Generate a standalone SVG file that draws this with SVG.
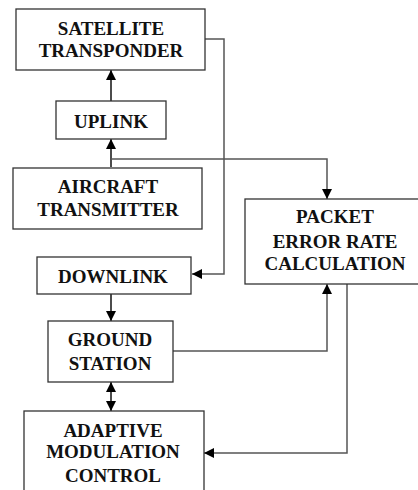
<svg xmlns="http://www.w3.org/2000/svg" width="418" height="490" viewBox="0 0 418 490">
<defs>
<marker id="ah" viewBox="0 0 10 10" refX="10" refY="5" markerWidth="10" markerHeight="10" markerUnits="userSpaceOnUse" orient="auto-start-reverse">
<path d="M0,0 L10,5 L0,10 Z" fill="#000"/>
</marker>
</defs>
<style>
.box{fill:#fff;stroke:#333;stroke-width:1.3}
text{font-family:'Liberation Serif','Times New Roman',Times,serif;font-weight:bold;font-size:19px;fill:#111;text-anchor:middle}
.c{fill:none;stroke:#555;stroke-width:1.5}
.k{fill:none;stroke:#111;stroke-width:1.5}
</style>
<rect width="418" height="490" fill="#fff"/>
<g id="connectors">
<path class="k" d="M111,101 L111,70" marker-end="url(#ah)"/>
<path class="k" d="M111,167 L111,139" marker-end="url(#ah)"/>
<path class="c" d="M111,159 L327,159 L327,199" marker-end="url(#ah)"/>
<path class="c" d="M205,39 L224,39 L224,274 L192,274" marker-end="url(#ah)"/>
<path class="k" d="M111,294 L111,321" marker-end="url(#ah)"/>
<path class="k" d="M111,382 L111,411" marker-start="url(#ah)" marker-end="url(#ah)"/>
<path class="c" d="M173,351 L327,351 L327,284" marker-end="url(#ah)"/>
<path class="c" d="M347,284 L347,453 L204,453" marker-end="url(#ah)"/>
</g>
<g id="satellite">
<rect class="box" x="16" y="9" width="189" height="61"/>
<text x="111" y="35">SATELLITE</text>
<text x="111" y="57">TRANSPONDER</text>
</g>
<g id="uplink">
<rect class="box" x="56" y="101" width="110" height="38"/>
<text x="111" y="128">UPLINK</text>
</g>
<g id="aircraft">
<rect class="box" x="13" y="168" width="189" height="61"/>
<text x="108" y="193">AIRCRAFT</text>
<text x="108" y="216">TRANSMITTER</text>
</g>
<g id="downlink">
<rect class="box" x="37" y="257" width="154" height="37"/>
<text x="113" y="283">DOWNLINK</text>
</g>
<g id="ground">
<rect class="box" x="48" y="321" width="125" height="61"/>
<text x="110" y="346">GROUND</text>
<text x="110" y="370">STATION</text>
</g>
<g id="adaptive">
<rect class="box" x="24" y="411" width="180" height="95"/>
<text x="113" y="437">ADAPTIVE</text>
<text x="113" y="458">MODULATION</text>
<text x="113" y="482">CONTROL</text>
</g>
<g id="per">
<rect class="box" x="245" y="199" width="180" height="85"/>
<text x="335" y="223">PACKET</text>
<text x="335" y="248">ERROR RATE</text>
<text x="335" y="270">CALCULATION</text>
</g>
</svg>
